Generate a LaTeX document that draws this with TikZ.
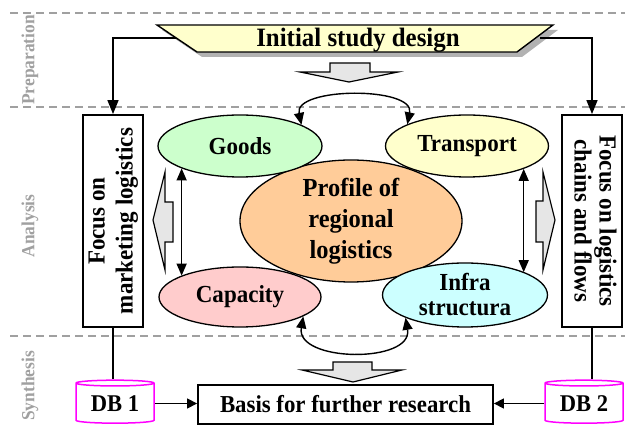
\documentclass[tikz,border=0pt]{standalone}
\usepackage{fontspec}
\setmainfont{Liberation Serif}[FakeStretch=0.94]
\usetikzlibrary{shapes.geometric,arrows.meta}
\definecolor{cgoods}{HTML}{CCFFCC}
\definecolor{ctrans}{HTML}{FFFFCC}
\definecolor{ccap}{HTML}{FFCCCC}
\definecolor{cinfra}{HTML}{CCFFFF}
\definecolor{cprof}{HTML}{FFCC99}
\definecolor{cphase}{HTML}{A0A0A0}
\definecolor{cblock}{HTML}{E6E6E6}
\definecolor{cdb}{HTML}{FF00FF}
\begin{document}
\begin{tikzpicture}[x=1pt,y=-1pt,
  sepline/.style={draw=cphase, line width=1.6pt, dash pattern=on 8pt off 5pt},
  phase/.style={text=cphase, font=\fontsize{18.5}{20}\selectfont\bfseries, rotate=90, inner sep=0},
  ell/.style={ellipse, draw, line width=1.3pt, inner sep=0, align=center, font=\fontsize{24.5}{25}\selectfont\bfseries},
  focusbox/.style={draw, line width=1.8pt, minimum width=60pt, minimum height=212pt, inner sep=0, fill=white},
  conn/.style={line width=1.4pt, -{Triangle[length=14pt,width=11pt]}},
  conntwo/.style={line width=1.4pt, -{Triangle[length=10pt,width=10pt]}},
  plain/.style={line width=1.4pt},
  dbl/.style={line width=1.4pt, {Triangle[length=12pt,width=10pt]}-{Triangle[length=12pt,width=10pt]}},
  blockarrow/.style={draw, fill=cblock, line width=1.2pt, line join=miter},
  db/.style={cylinder, shape border rotate=90, aspect=0.12, draw=cdb, line width=1.5pt, minimum width=78pt, minimum height=43pt, inner sep=0, font=\fontsize{24}{25}\selectfont\bfseries},
]
\useasboundingbox (0,0) rectangle (625,427);

% phase separators
\draw[sepline] (10,13) -- (625,13);
\draw[sepline] (10,107) -- (625,107);
\draw[sepline] (10,336) -- (625,336);
\node[phase] (lprep) at (30,60) {Preparation};
\node[phase] (lana) at (30,226) {Analysis};
\node[phase] (lsyn) at (30,386) {Synthesis};

% initial study design
\fill[gray!60] (162,30) -- (558,30) -- (522,57) -- (202,57) -- cycle;
\filldraw[fill=ctrans, line width=1.4pt] (157,25) -- (553,25) -- (517,52) -- (197,52) -- cycle;
\node[font=\fontsize{26.5}{27}\selectfont\bfseries, inner sep=0, anchor=base] (init) at (358,47) {Initial study design};
\coordinate (initL) at (176,38);
\coordinate (initR) at (540,38);

% focus boxes
\node[focusbox] (focusL) at (113,221) {\rotatebox{90}{\fontsize{24.5}{28}\selectfont\bfseries\begin{tabular}{@{}c@{}}Focus on\\marketing logistics\end{tabular}}};
\node[focusbox] (focusR) at (592,221) {\rotatebox{-90}{\fontsize{24.5}{25}\selectfont\bfseries\begin{tabular}{@{}c@{}}Focus on logistics\\chains and flows\end{tabular}}};

\draw[conn] (initL) -| (focusL.north);
\draw[conn] (initR) -| (focusR.north);

% ellipses
\node[ell, fill=cprof, minimum width=222pt, minimum height=122pt, font=\fontsize{26}{31}\selectfont\bfseries] (profile) at (351,221) {Profile of\\regional\\logistics};
\node[ell, fill=cgoods, minimum width=164pt, minimum height=62pt] (goods) at (240,146) {Goods};
\node[ell, fill=ctrans, minimum width=163pt, minimum height=62pt] (transport) at (467,146) {Transport};
\node[ell, fill=ccap, minimum width=162pt, minimum height=60pt] (capacity) at (240,297) {Capacity};
\node[ell, fill=cinfra, minimum width=165pt, minimum height=64pt] (infra) at (465,295) {Infra\\structura};

% curved double arrows
\draw[dbl] (goods.19) .. controls +(-8,-38) and +(8,-38) .. (transport.160);
\draw[dbl] (capacity.-17) .. controls +(-8,46) and +(8,46) .. (infra.-159);

% vertical double arrows
\draw[dbl] (goods.201) -- (goods.201 |- capacity.160);
\draw[dbl] (transport.-22) -- (transport.-22 |- infra.21);

% block arrows
\path[blockarrow] (330,63) -- (370,63) -- (370,72) -- (398,72) -- (349,82) -- (300,72) -- (330,72) -- cycle;
\path[blockarrow] (333,362) -- (372,362) -- (372,370) -- (402,370) -- (353,382) -- (302,370) -- (333,370) -- cycle;
\path[blockarrow] (165,172) -- (165,202) -- (173,202) -- (173,242) -- (165,242) -- (165,270) -- (153,220) -- cycle;
\path[blockarrow] (543,172) -- (543,201) -- (536,201) -- (536,242) -- (543,242) -- (543,270) -- (555,220) -- cycle;

% synthesis
\node[draw, line width=1.8pt, minimum width=295pt, minimum height=39pt, inner sep=0, font=\fontsize{24.3}{25}\selectfont\bfseries] (basis) at (345.5,404.5) {Basis for further research};
\node[db] (db1) at (115,403.5) {DB 1};
\node[db] (db2) at (584,403.5) {DB 2};

\draw[plain] (focusL.south) -- (focusL.south |- db1.north);
\draw[plain] (focusR.south) -- (focusR.south |- db2.north);
\draw[conntwo] (db1.east) -- (db1.east -| basis.west);
\draw[conntwo] (db2.west) -- (db2.west -| basis.east);
\end{tikzpicture}
\end{document}
